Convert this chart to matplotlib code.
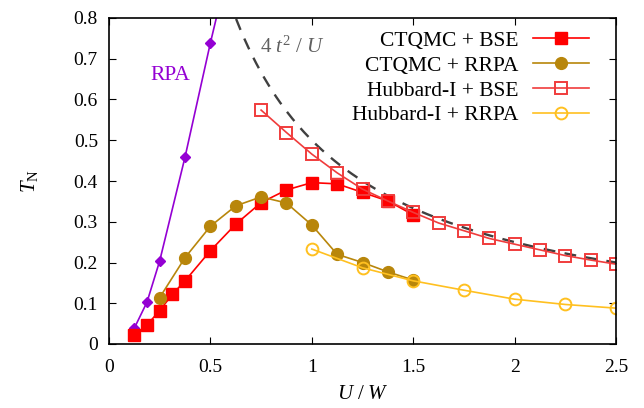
import numpy as np
import matplotlib
matplotlib.use('Agg')
import matplotlib.pyplot as plt

plt.rcParams['font.family'] = ['Liberation Serif', 'DejaVu Serif']
plt.rcParams['mathtext.fontset'] = 'custom'
plt.rcParams['mathtext.rm'] = 'Liberation Serif'
plt.rcParams['mathtext.it'] = 'Liberation Serif:italic'

# data
u_qmc_bse = [0.125, 0.1875, 0.25, 0.3125, 0.375, 0.5, 0.625, 0.75, 0.875, 1.0, 1.125, 1.25, 1.375, 1.5]
t_qmc_bse = [0.022, 0.047, 0.082, 0.122, 0.155, 0.229, 0.294, 0.347, 0.378, 0.396, 0.393, 0.372, 0.351, 0.317]

u_qmc_rrpa = [0.25, 0.375, 0.5, 0.625, 0.75, 0.875, 1.0, 1.125, 1.25, 1.375, 1.5]
t_qmc_rrpa = [0.114, 0.212, 0.289, 0.339, 0.361, 0.346, 0.292, 0.220, 0.200, 0.177, 0.157]

u_hub_bse = [0.75, 0.875, 1.0, 1.125, 1.25, 1.375, 1.5, 1.625, 1.75, 1.875, 2.0, 2.125, 2.25, 2.375, 2.5]
t_hub_bse = [0.574, 0.519, 0.466, 0.420, 0.380, 0.351, 0.323, 0.297, 0.278, 0.259, 0.245, 0.231, 0.217, 0.206, 0.196]

u_hub_rrpa = [1.0, 1.25, 1.5, 1.75, 2.0, 2.25, 2.5]
t_hub_rrpa = [0.233, 0.187, 0.155, 0.132, 0.110, 0.097, 0.088]

u_rpa = [0.125, 0.1875, 0.25, 0.375, 0.5, 0.625]
t_rpa = [0.039, 0.103, 0.204, 0.459, 0.739, 1.0]

u_strong = np.linspace(0.55, 2.5, 200)
t_strong = 0.5 / u_strong

fig = plt.figure(figsize=(6.44, 4.08), dpi=100)
ax = fig.add_axes([109/644, 64/408, 507/644, 326/408])

ax.plot(u_strong, t_strong, '--', color='#404040', lw=1.7, dashes=(5, 4), zorder=1)
ax.plot(u_rpa, t_rpa, '-D', color='#9400d3', lw=1.2, ms=5)
ax.plot(u_qmc_bse, t_qmc_bse, '-s', color='#ff0000', lw=1.2, ms=8.5, label='CTQMC + BSE')
ax.plot(u_qmc_rrpa, t_qmc_rrpa, '-o', color='#b8860b', lw=1.2, ms=8.5, label='CTQMC + RRPA')
ax.plot(u_hub_bse, t_hub_bse, '-s', color='#f03c3c', lw=1.2, ms=8.5, mfc='none', mew=1.4,
        label='Hubbard-I + BSE')
ax.plot(u_hub_rrpa, t_hub_rrpa, '-o', color='#ffc020', lw=1.2, ms=8.5, mfc='none', mew=1.4,
        label='Hubbard-I + RRPA')

ax.text(0.3, 0.66, 'RPA', color='#9400d3', fontsize=15.5, ha='center', va='center')
ax.text(0.745, 0.729, r'$4\ t^2\ /\ U$', color='#606060', fontsize=15, ha='left', va='center')

ax.set_xlim(0, 2.5)
ax.set_ylim(0, 0.8)
ax.set_xticks([0, 0.5, 1, 1.5, 2, 2.5])
ax.set_xticklabels(['0', '0.5', '1', '1.5', '2', '2.5'])
ax.set_yticks(np.arange(0, 0.81, 0.1))
ax.set_yticklabels(['0', '0.1', '0.2', '0.3', '0.4', '0.5', '0.6', '0.7', '0.8'])
ax.tick_params(direction='in', top=True, right=True, labelsize=14, length=5, width=0.8)
ax.tick_params(axis='x', pad=11)
ax.tick_params(axis='y', pad=8)
for s in ax.spines.values():
    s.set_linewidth(1.2)

ax.set_xlabel(r'$U\ /\ W$', fontsize=15, labelpad=6)
ax.set_ylabel(r'$T_{\mathrm{N}}$', fontsize=15, labelpad=24)

ax.legend(loc='upper right', markerfirst=False, frameon=False, fontsize=15.5,
          handlelength=2.6, handletextpad=0.7, borderaxespad=0.3, borderpad=0.3,
          labelspacing=0.22, bbox_to_anchor=(0.973, 1.0))

fig.savefig('out.png', dpi=100)
